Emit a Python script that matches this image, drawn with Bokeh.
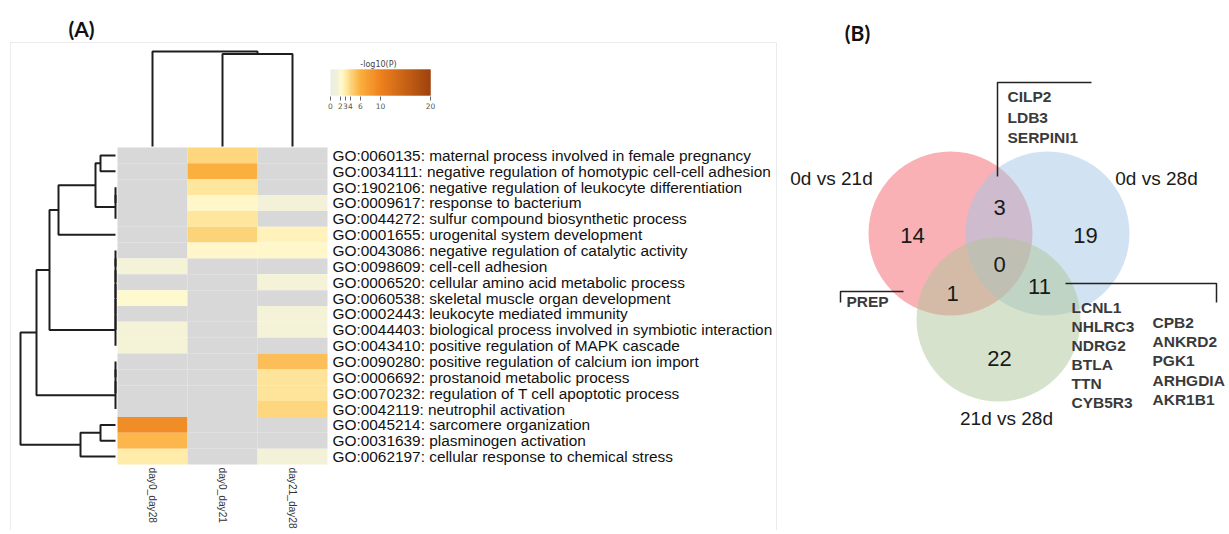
import numpy as np
from bokeh.plotting import figure
from bokeh.models import ColumnDataSource, LinearColorMapper, Range1d
from bokeh.transform import transform
from bokeh.layouts import row
from bokeh.embed import file_html
from bokeh.resources import INLINE
from bokeh.core.properties import value

# ---------------- DATA ----------------
columns = ["day0_day28", "day0_day21", "day21_day28"]
terms = [
    "GO:0060135: maternal process involved in female pregnancy",
    "GO:0034111: negative regulation of homotypic cell-cell adhesion",
    "GO:1902106: negative regulation of leukocyte differentiation",
    "GO:0009617: response to bacterium",
    "GO:0044272: sulfur compound biosynthetic process",
    "GO:0001655: urogenital system development",
    "GO:0043086: negative regulation of catalytic activity",
    "GO:0098609: cell-cell adhesion",
    "GO:0006520: cellular amino acid metabolic process",
    "GO:0060538: skeletal muscle organ development",
    "GO:0002443: leukocyte mediated immunity",
    "GO:0044403: biological process involved in symbiotic interaction",
    "GO:0043410: positive regulation of MAPK cascade",
    "GO:0090280: positive regulation of calcium ion import",
    "GO:0006692: prostanoid metabolic process",
    "GO:0070232: regulation of T cell apoptotic process",
    "GO:0042119: neutrophil activation",
    "GO:0045214: sarcomere organization",
    "GO:0031639: plasminogen activation",
    "GO:0062197: cellular response to chemical stress",
]
nan = float("nan")
day0_day28 = [nan, nan, nan, nan, nan, nan, nan, 1.6, nan, 2.1,
              nan, 1.6, 1.6, nan, nan, nan, nan, 9.0, 5.6, 3.0]
day0_day21 = [4.0, 6.0, 3.3, 2.2, 3.3, 4.2, 2.2, nan, nan, nan,
              nan, nan, nan, nan, nan, nan, nan, nan, nan, nan]
day21_day28 = [nan, nan, nan, 1.5, nan, 2.6, 2.2, nan, 1.6, nan,
               1.6, 1.6, nan, 5.2, 3.4, 3.4, 4.0, nan, nan, 1.5]

# hierarchical clustering (child a, child b, merge distance); leaves are 0..n-1
row_linkage = [(0, 1, 15), (2, 3, 0), (21, 4, 0), (20, 22, 20), (23, 5, 57),
               (6, 7, 0), (25, 8, 0), (26, 9, 0), (27, 10, 0), (28, 11, 0), (29, 12, 0),
               (24, 30, 66), (13, 14, 0), (32, 15, 0), (33, 16, 0), (31, 34, 79),
               (17, 18, 15), (36, 19, 35), (35, 37, 95)]
col_linkage = [(1, 2, 92.5), (0, 3, 95)]

cbar_ticks = [0, 2, 3, 4, 6, 10, 20]
cbar_title = "-log10(P)"

venn_labels = ["0d vs 21d", "0d vs 28d", "21d vs 28d"]
n_only_21 = 14
n_only_28 = 19
n_only_2128 = 22
n_21_28 = 3
n_21_2128 = 1
n_28_2128 = 11
n_all = 0
genes_21_28 = ["CILP2", "LDB3", "SERPINI1"]
genes_21_2128 = ["PREP"]
genes_28_2128_a = ["LCNL1", "NHLRC3", "NDRG2", "BTLA", "TTN", "CYB5R3"]
genes_28_2128_b = ["CPB2", "ANKRD2", "PGK1", "ARHGDIA", "AKR1B1"]

# ---------------- STYLE / LAYOUT ----------------
FONT = value("Liberation Sans")
HM_LEFT, HM_TOP, CW, RH = 117.0, 147.0, 70.0, 15.85
A_W, B_W, H = 780, 445, 530


def ax(px):
    return (px - HM_LEFT) / CW


def ay(py):
    return (py - HM_TOP) / RH


stops_v = [0, 1.5, 2, 3, 4, 6, 10, 20]
stops_c = [(236, 236, 228), (243, 242, 216), (255, 250, 210), (255, 236, 170),
           (253, 214, 126), (251, 174, 62), (238, 130, 30), (158, 66, 14)]
grid = np.linspace(0, 20, 256)
pal = []
for g in grid:
    rgb = [int(round(np.interp(g, stops_v, [c[k] for c in stops_c]))) for k in range(3)]
    pal.append("#%02x%02x%02x" % tuple(rgb))
mapper = LinearColorMapper(palette=pal, low=0, high=20, nan_color="#d8d8d8")

pA = figure(width=A_W, height=H, output_backend="svg", toolbar_location=None,
            x_range=Range1d(ax(0), ax(A_W)), y_range=Range1d(ay(H), ay(0)),
            min_border=0, outline_line_color=None)
pA.axis.visible = False
pA.grid.visible = False

# faint panel frame
pA.line([ax(10), ax(10), ax(776), ax(776)], [ay(540), ay(42), ay(42), ay(540)],
        line_color="#ececec", line_width=1)

# heatmap cells
series = [day0_day28, day0_day21, day21_day28]
cx, cy, cv = [], [], []
for j, s in enumerate(series):
    for i, v in enumerate(s):
        cx.append(j + 0.5)
        cy.append(i + 0.5)
        cv.append(v)
src = ColumnDataSource(dict(x=cx, y=cy, v=cv))
pA.rect(x="x", y="y", width=1, height=1, source=src,
        fill_color=transform("v", mapper), line_color=None)


def dendro(linkage, n):
    pos = [i + 0.5 for i in range(n)]
    h = [0.0] * n
    segs = []
    for a, b, d in linkage:
        segs.append(([h[a], d, d, h[b]], [pos[a], pos[a], pos[b], pos[b]]))
        pos.append((pos[a] + pos[b]) / 2.0)
        h.append(d)
    return segs


rs = dendro(row_linkage, len(terms))
pA.multi_line(xs=[[-(2 + d) / CW for d in s[0]] for s in rs], ys=[s[1] for s in rs],
              line_color="#1e1e1e", line_width=2)
cs = dendro(col_linkage, len(columns))
pA.multi_line(xs=[s[1] for s in cs], ys=[[-(1 + d) / RH for d in s[0]] for s in cs],
              line_color="#1e1e1e", line_width=2)

# row labels
pA.text(x=[ax(332)] * len(terms), y=[i + 0.5 for i in range(len(terms))], text=terms,
        text_font=FONT, text_font_size="15.4px", text_baseline="middle",
        text_align="left", text_color="#111111")
# column labels
pA.text(x=[j + 0.5 for j in range(len(columns))], y=[ay(467)] * 3, text=columns,
        angle=-np.pi / 2, text_font=FONT, text_font_size="10.2px",
        text_baseline="middle", text_align="left", text_color="#333333")

# colorbar
nseg = 200
cb_l, cb_r, cb_t, cb_b = 330.0, 430.0, 69.0, 95.0
edges = np.linspace(cb_l, cb_r, nseg + 1)
vals = np.linspace(0, 20, nseg + 1)
cb_src = ColumnDataSource(dict(
    left=[ax(e) for e in edges[:-1]],
    right=[ax(min(e + 1.0, cb_r)) for e in edges[:-1]],
    v=list((vals[:-1] + vals[1:]) / 2)))
pA.quad(left="left", right="right", top=ay(cb_t), bottom=ay(cb_b), source=cb_src,
        fill_color=transform("v", mapper), line_color=None)
tick_x = [ax(cb_l + t / 20.0 * (cb_r - cb_l)) for t in cbar_ticks]
pA.segment(x0=tick_x, x1=tick_x, y0=[ay(cb_b + 1)] * len(tick_x),
           y1=[ay(cb_b + 5)] * len(tick_x), line_color="#666666", line_width=1)
pA.text(x=tick_x, y=[ay(cb_b + 10)] * len(tick_x), text=[str(t) for t in cbar_ticks],
        text_font=value("DejaVu Sans"), text_font_size="7.5px", text_align="center",
        text_baseline="middle", text_color="#555555")
pA.text(x=[ax(378)], y=[ay(64)], text=[cbar_title], text_font=value("DejaVu Sans"),
        text_font_size="8px", text_align="center", text_baseline="middle",
        text_color="#444444")
# panel letter
pA.text(x=[ax(81)], y=[ay(28)], text=["(A)"], text_font=value("Lato"),
        text_font_style="bold", text_font_size="21px", text_align="center",
        text_baseline="middle", text_color="#111111")

# ---------------- Venn ----------------
pB = figure(width=B_W, height=H, output_backend="svg", toolbar_location=None,
            x_range=Range1d(A_W, A_W + B_W), y_range=Range1d(H, 0),
            min_border=0, outline_line_color=None)
pB.axis.visible = False
pB.grid.visible = False

circ = ColumnDataSource(dict(x=[950, 1047, 998], y=[233, 233, 319],
                             c=["#f4646b", "#a3c5e6", "#b0c69a"]))
pB.circle(x="x", y="y", radius=82, source=circ, fill_color="c", fill_alpha=0.5,
          line_color=None)

pB.text(x=[912, 1085, 999, 999, 952, 1039, 999],
        y=[235, 235, 358, 207, 293, 286, 264],
        text=[str(n_only_21), str(n_only_28), str(n_only_2128), str(n_21_28),
              str(n_21_2128), str(n_28_2128), str(n_all)],
        text_font=FONT, text_font_size="22px", text_align="center",
        text_baseline="middle", text_color="#1a1a1a")
pB.text(x=[831, 1156, 1006], y=[178, 178, 418], text=venn_labels, text_font=FONT,
        text_font_size="19px", text_align="center", text_baseline="middle",
        text_color="#1a1a1a")

gx, gy, gt = [], [], []
for k, g in enumerate(genes_21_28):
    gx.append(1007); gy.append(96 + k * 20.5); gt.append(g)
for k, g in enumerate(genes_21_2128):
    gx.append(846); gy.append(301 + k * 19.2); gt.append(g)
for k, g in enumerate(genes_28_2128_a):
    gx.append(1071); gy.append(307 + k * 19.0); gt.append(g)
for k, g in enumerate(genes_28_2128_b):
    gx.append(1152); gy.append(322 + k * 19.2); gt.append(g)
pB.text(x=gx, y=gy, text=gt, text_font=FONT, text_font_style="bold",
        text_font_size="15.5px", text_align="left", text_baseline="middle",
        text_color="#3a3a3a")

pB.multi_line(xs=[[997, 997, 1091], [840, 840, 903], [1065, 1216, 1216]],
              ys=[[176, 82, 82], [302, 291, 291], [283, 283, 302]],
              line_color="#222222", line_width=1.5)
pB.text(x=[857], y=[32], text=["(B)"], text_font=value("Lato"), text_font_style="bold",
        text_font_size="21px", text_align="center", text_baseline="middle",
        text_color="#111111")

layout = row(pA, pB)
open("out.html", "w").write(file_html(layout, INLINE))
